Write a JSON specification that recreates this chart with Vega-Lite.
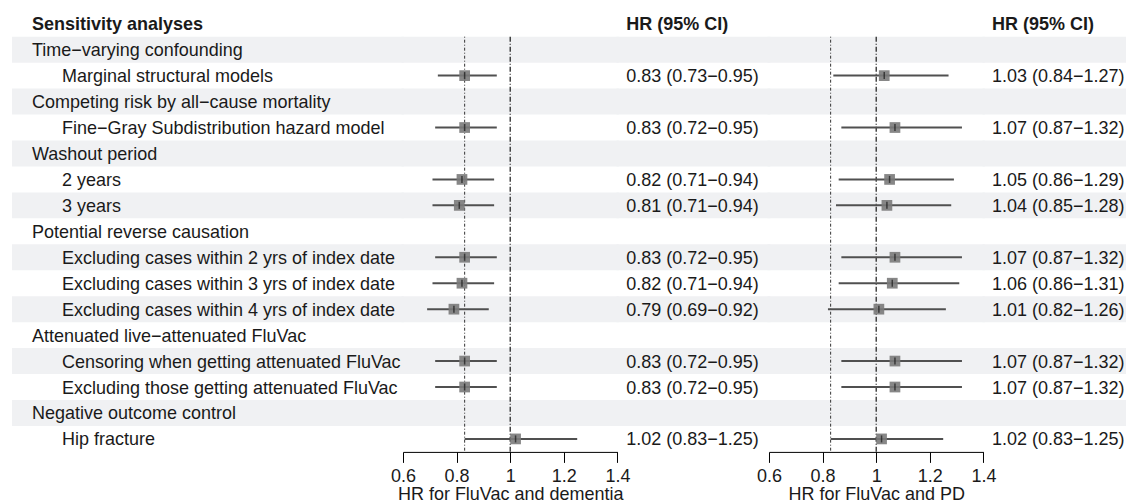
{
  "$schema": "https://vega.github.io/schema/vega-lite/v6.json",
  "padding": {"left": 12, "top": 10.75, "right": 0, "bottom": 0},
  "bounds": "flush",
  "spacing": 0,
  "config": {
    "view": {"stroke": null},
    "font": "Liberation Sans",
    "text": {"font": "Liberation Sans", "fontSize": 18, "color": "#1a1a1a", "align": "left", "baseline": "middle", "dy": 1.5}
  },
  "datasets": {
    "rows": [
      {"label": "Sensitivity analyses", "kind": "header", "ci1": "HR (95% CI)", "ci2": "HR (95% CI)"},
      {"label": "Time−varying confounding", "kind": "group"},
      {"label": "Marginal structural models", "kind": "item", "hr1": 0.83, "lo1": 0.73, "hi1": 0.95, "ci1": "0.83 (0.73−0.95)", "hr2": 1.03, "lo2": 0.84, "hi2": 1.27, "ci2": "1.03 (0.84−1.27)"},
      {"label": "Competing risk by all−cause mortality", "kind": "group"},
      {"label": "Fine−Gray Subdistribution hazard model", "kind": "item", "hr1": 0.83, "lo1": 0.72, "hi1": 0.95, "ci1": "0.83 (0.72−0.95)", "hr2": 1.07, "lo2": 0.87, "hi2": 1.32, "ci2": "1.07 (0.87−1.32)"},
      {"label": "Washout period", "kind": "group"},
      {"label": "2 years", "kind": "item", "hr1": 0.82, "lo1": 0.71, "hi1": 0.94, "ci1": "0.82 (0.71−0.94)", "hr2": 1.05, "lo2": 0.86, "hi2": 1.29, "ci2": "1.05 (0.86−1.29)"},
      {"label": "3 years", "kind": "item", "hr1": 0.81, "lo1": 0.71, "hi1": 0.94, "ci1": "0.81 (0.71−0.94)", "hr2": 1.04, "lo2": 0.85, "hi2": 1.28, "ci2": "1.04 (0.85−1.28)"},
      {"label": "Potential reverse causation", "kind": "group"},
      {"label": "Excluding cases within 2 yrs of index date", "kind": "item", "hr1": 0.83, "lo1": 0.72, "hi1": 0.95, "ci1": "0.83 (0.72−0.95)", "hr2": 1.07, "lo2": 0.87, "hi2": 1.32, "ci2": "1.07 (0.87−1.32)"},
      {"label": "Excluding cases within 3 yrs of index date", "kind": "item", "hr1": 0.82, "lo1": 0.71, "hi1": 0.94, "ci1": "0.82 (0.71−0.94)", "hr2": 1.06, "lo2": 0.86, "hi2": 1.31, "ci2": "1.06 (0.86−1.31)"},
      {"label": "Excluding cases within 4 yrs of index date", "kind": "item", "hr1": 0.79, "lo1": 0.69, "hi1": 0.92, "ci1": "0.79 (0.69−0.92)", "hr2": 1.01, "lo2": 0.82, "hi2": 1.26, "ci2": "1.01 (0.82−1.26)"},
      {"label": "Attenuated live−attenuated FluVac", "kind": "group"},
      {"label": "Censoring when getting attenuated FluVac", "kind": "item", "hr1": 0.83, "lo1": 0.72, "hi1": 0.95, "ci1": "0.83 (0.72−0.95)", "hr2": 1.07, "lo2": 0.87, "hi2": 1.32, "ci2": "1.07 (0.87−1.32)"},
      {"label": "Excluding those getting attenuated FluVac", "kind": "item", "hr1": 0.83, "lo1": 0.72, "hi1": 0.95, "ci1": "0.83 (0.72−0.95)", "hr2": 1.07, "lo2": 0.87, "hi2": 1.32, "ci2": "1.07 (0.87−1.32)"},
      {"label": "Negative outcome control", "kind": "group"},
      {"label": "Hip fracture", "kind": "item", "hr1": 1.02, "lo1": 0.83, "hi1": 1.25, "ci1": "1.02 (0.83−1.25)", "hr2": 1.02, "lo2": 0.83, "hi2": 1.25, "ci2": "1.02 (0.83−1.25)"}
    ]
  },
  "hconcat": [
    {
      "width": 390.3, "height": 441.15,
      "data": {"name": "rows"},
      "layer": [
        {
          "transform": [{"window": [{"op": "row_number", "as": "rn"}]}, {"filter": "datum.rn % 2 == 0"}],
          "mark": {"type": "rect", "color": "#f0f1f3", "x2Offset": 1.5},
          "encoding": {
            "y": {"field": "label", "type": "nominal", "scale": {"domain": ["Sensitivity analyses", "Time−varying confounding", "Marginal structural models", "Competing risk by all−cause mortality", "Fine−Gray Subdistribution hazard model", "Washout period", "2 years", "3 years", "Potential reverse causation", "Excluding cases within 2 yrs of index date", "Excluding cases within 3 yrs of index date", "Excluding cases within 4 yrs of index date", "Attenuated live−attenuated FluVac", "Censoring when getting attenuated FluVac", "Excluding those getting attenuated FluVac", "Negative outcome control", "Hip fracture"], "paddingInner": 0, "paddingOuter": 0}, "axis": null},
            "x": {"value": 0}, "x2": {"value": "width"}
          }
        },
        {
          "transform": [{"filter": "datum.kind == 'header'"}],
          "mark": {"type": "text", "fontWeight": "bold", "x": 20},
          "encoding": {
            "y": {"field": "label", "type": "nominal", "axis": null},
            "text": {"field": "label"}
          }
        },
        {
          "transform": [{"filter": "datum.kind == 'group'"}],
          "mark": {"type": "text", "x": 20},
          "encoding": {
            "y": {"field": "label", "type": "nominal", "axis": null},
            "text": {"field": "label"}
          }
        },
        {
          "transform": [{"filter": "datum.kind == 'item'"}],
          "mark": {"type": "text", "x": 50},
          "encoding": {
            "y": {"field": "label", "type": "nominal", "axis": null},
            "text": {"field": "label"}
          }
        }
      ]
    },
    {
      "width": 214.4, "height": 441.15,
      "data": {"name": "rows"},
      "layer": [
        {
          "transform": [{"window": [{"op": "row_number", "as": "rn"}]}, {"filter": "datum.rn % 2 == 0"}],
          "mark": {"type": "rect", "color": "#f0f1f3", "xOffset": -1.5, "x2Offset": 1.5},
          "encoding": {
            "y": {"field": "label", "type": "nominal", "scale": {"domain": ["Sensitivity analyses", "Time−varying confounding", "Marginal structural models", "Competing risk by all−cause mortality", "Fine−Gray Subdistribution hazard model", "Washout period", "2 years", "3 years", "Potential reverse causation", "Excluding cases within 2 yrs of index date", "Excluding cases within 3 yrs of index date", "Excluding cases within 4 yrs of index date", "Attenuated live−attenuated FluVac", "Censoring when getting attenuated FluVac", "Excluding those getting attenuated FluVac", "Negative outcome control", "Hip fracture"], "paddingInner": 0, "paddingOuter": 0}, "axis": null},
            "x": {"value": 0}, "x2": {"value": "width"}
          }
        },
        {
          "data": {"values": [{}]},
          "mark": {"type": "rule", "color": "#333333", "strokeWidth": 1, "strokeDash": [1, 2, 3, 2]},
          "encoding": {
            "x": {"datum": 0.83, "type": "quantitative", "scale": {"domain": [0.6, 1.4], "nice": false, "zero": false}},
            "y": {"datum": "Time−varying confounding", "type": "nominal", "bandPosition": 0},
            "y2": {"value": "height"}
          }
        },
        {
          "data": {"values": [{}]},
          "mark": {"type": "rule", "color": "#1a1a1a", "strokeWidth": 1.2, "strokeDash": [5, 2, 1, 2]},
          "encoding": {
            "x": {"datum": 1, "type": "quantitative"},
            "y": {"datum": "Time−varying confounding", "type": "nominal", "bandPosition": 0},
            "y2": {"value": "height"}
          }
        },
        {
          "transform": [{"filter": "isValid(datum.hr1)"}],
          "mark": {"type": "rule", "color": "#505050", "strokeWidth": 2},
          "encoding": {
            "x": {"field": "lo1", "type": "quantitative", "axis": {"title": "HR for FluVac and dementia", "values": [0.6, 0.8, 1, 1.2, 1.4], "format": "~g", "grid": false, "domainColor": "#000000", "tickColor": "#000000", "tickSize": 10.5, "labelFontSize": 18, "titleFontSize": 18, "titleFontWeight": "normal", "labelPadding": 5.5, "titlePadding": 0, "labelFlush": false, "labelOverlap": false, "labelColor": "#1a1a1a", "titleColor": "#1a1a1a", "labelFont": "Liberation Sans", "titleFont": "Liberation Sans"}},
            "x2": {"field": "hi1"},
            "y": {"field": "label", "type": "nominal"}
          }
        },
        {
          "transform": [{"filter": "isValid(datum.hr1)"}],
          "mark": {"type": "square", "size": 115, "filled": true, "color": "#7a7a7a", "opacity": 0.9},
          "encoding": {
            "x": {"field": "hr1", "type": "quantitative"},
            "y": {"field": "label", "type": "nominal"}
          }
        },
        {
          "transform": [{"filter": "isValid(datum.hr1)"}],
          "mark": {"type": "tick", "orient": "vertical", "size": 7, "thickness": 1.5, "color": "#1a1a1a"},
          "encoding": {
            "x": {"field": "hr1", "type": "quantitative"},
            "y": {"field": "label", "type": "nominal"}
          }
        }
      ]
    },
    {
      "width": 150.9, "height": 441.15,
      "data": {"name": "rows"},
      "layer": [
        {
          "transform": [{"window": [{"op": "row_number", "as": "rn"}]}, {"filter": "datum.rn % 2 == 0"}],
          "mark": {"type": "rect", "color": "#f0f1f3", "xOffset": -1.5, "x2Offset": 1.5},
          "encoding": {
            "y": {"field": "label", "type": "nominal", "scale": {"domain": ["Sensitivity analyses", "Time−varying confounding", "Marginal structural models", "Competing risk by all−cause mortality", "Fine−Gray Subdistribution hazard model", "Washout period", "2 years", "3 years", "Potential reverse causation", "Excluding cases within 2 yrs of index date", "Excluding cases within 3 yrs of index date", "Excluding cases within 4 yrs of index date", "Attenuated live−attenuated FluVac", "Censoring when getting attenuated FluVac", "Excluding those getting attenuated FluVac", "Negative outcome control", "Hip fracture"], "paddingInner": 0, "paddingOuter": 0}, "axis": null},
            "x": {"value": 0}, "x2": {"value": "width"}
          }
        },
        {
          "transform": [{"filter": "datum.kind == 'header'"}],
          "mark": {"type": "text", "fontWeight": "bold", "x": 8.3},
          "encoding": {
            "y": {"field": "label", "type": "nominal", "axis": null},
            "text": {"field": "ci1"}
          }
        },
        {
          "transform": [{"filter": "datum.kind == 'item'"}],
          "mark": {"type": "text", "x": 8.3},
          "encoding": {
            "y": {"field": "label", "type": "nominal", "axis": null},
            "text": {"field": "ci1"}
          }
        }
      ]
    },
    {
      "width": 214.4, "height": 441.15,
      "data": {"name": "rows"},
      "layer": [
        {
          "transform": [{"window": [{"op": "row_number", "as": "rn"}]}, {"filter": "datum.rn % 2 == 0"}],
          "mark": {"type": "rect", "color": "#f0f1f3", "xOffset": -1.5, "x2Offset": 1.5},
          "encoding": {
            "y": {"field": "label", "type": "nominal", "scale": {"domain": ["Sensitivity analyses", "Time−varying confounding", "Marginal structural models", "Competing risk by all−cause mortality", "Fine−Gray Subdistribution hazard model", "Washout period", "2 years", "3 years", "Potential reverse causation", "Excluding cases within 2 yrs of index date", "Excluding cases within 3 yrs of index date", "Excluding cases within 4 yrs of index date", "Attenuated live−attenuated FluVac", "Censoring when getting attenuated FluVac", "Excluding those getting attenuated FluVac", "Negative outcome control", "Hip fracture"], "paddingInner": 0, "paddingOuter": 0}, "axis": null},
            "x": {"value": 0}, "x2": {"value": "width"}
          }
        },
        {
          "data": {"values": [{}]},
          "mark": {"type": "rule", "color": "#333333", "strokeWidth": 1, "strokeDash": [1, 2, 3, 2]},
          "encoding": {
            "x": {"datum": 0.83, "type": "quantitative", "scale": {"domain": [0.6, 1.4], "nice": false, "zero": false}},
            "y": {"datum": "Time−varying confounding", "type": "nominal", "bandPosition": 0},
            "y2": {"value": "height"}
          }
        },
        {
          "data": {"values": [{}]},
          "mark": {"type": "rule", "color": "#1a1a1a", "strokeWidth": 1.2, "strokeDash": [5, 2, 1, 2]},
          "encoding": {
            "x": {"datum": 1, "type": "quantitative"},
            "y": {"datum": "Time−varying confounding", "type": "nominal", "bandPosition": 0},
            "y2": {"value": "height"}
          }
        },
        {
          "transform": [{"filter": "isValid(datum.hr2)"}],
          "mark": {"type": "rule", "color": "#505050", "strokeWidth": 2},
          "encoding": {
            "x": {"field": "lo2", "type": "quantitative", "axis": {"title": "HR for FluVac and PD", "values": [0.6, 0.8, 1, 1.2, 1.4], "format": "~g", "grid": false, "domainColor": "#000000", "tickColor": "#000000", "tickSize": 10.5, "labelFontSize": 18, "titleFontSize": 18, "titleFontWeight": "normal", "labelPadding": 5.5, "titlePadding": 0, "labelFlush": false, "labelOverlap": false, "labelColor": "#1a1a1a", "titleColor": "#1a1a1a", "labelFont": "Liberation Sans", "titleFont": "Liberation Sans"}},
            "x2": {"field": "hi2"},
            "y": {"field": "label", "type": "nominal"}
          }
        },
        {
          "transform": [{"filter": "isValid(datum.hr2)"}],
          "mark": {"type": "square", "size": 115, "filled": true, "color": "#7a7a7a", "opacity": 0.9},
          "encoding": {
            "x": {"field": "hr2", "type": "quantitative"},
            "y": {"field": "label", "type": "nominal"}
          }
        },
        {
          "transform": [{"filter": "isValid(datum.hr2)"}],
          "mark": {"type": "tick", "orient": "vertical", "size": 7, "thickness": 1.5, "color": "#1a1a1a"},
          "encoding": {
            "x": {"field": "hr2", "type": "quantitative"},
            "y": {"field": "label", "type": "nominal"}
          }
        }
      ]
    },
    {
      "width": 144, "height": 441.15,
      "data": {"name": "rows"},
      "layer": [
        {
          "transform": [{"window": [{"op": "row_number", "as": "rn"}]}, {"filter": "datum.rn % 2 == 0"}],
          "mark": {"type": "rect", "color": "#f0f1f3", "xOffset": -1.5},
          "encoding": {
            "y": {"field": "label", "type": "nominal", "scale": {"domain": ["Sensitivity analyses", "Time−varying confounding", "Marginal structural models", "Competing risk by all−cause mortality", "Fine−Gray Subdistribution hazard model", "Washout period", "2 years", "3 years", "Potential reverse causation", "Excluding cases within 2 yrs of index date", "Excluding cases within 3 yrs of index date", "Excluding cases within 4 yrs of index date", "Attenuated live−attenuated FluVac", "Censoring when getting attenuated FluVac", "Excluding those getting attenuated FluVac", "Negative outcome control", "Hip fracture"], "paddingInner": 0, "paddingOuter": 0}, "axis": null},
            "x": {"value": 0}, "x2": {"value": "width"}
          }
        },
        {
          "transform": [{"filter": "datum.kind == 'header'"}],
          "mark": {"type": "text", "fontWeight": "bold", "x": 8},
          "encoding": {
            "y": {"field": "label", "type": "nominal", "axis": null},
            "text": {"field": "ci2"}
          }
        },
        {
          "transform": [{"filter": "datum.kind == 'item'"}],
          "mark": {"type": "text", "x": 8},
          "encoding": {
            "y": {"field": "label", "type": "nominal", "axis": null},
            "text": {"field": "ci2"}
          }
        }
      ]
    }
  ]
}
